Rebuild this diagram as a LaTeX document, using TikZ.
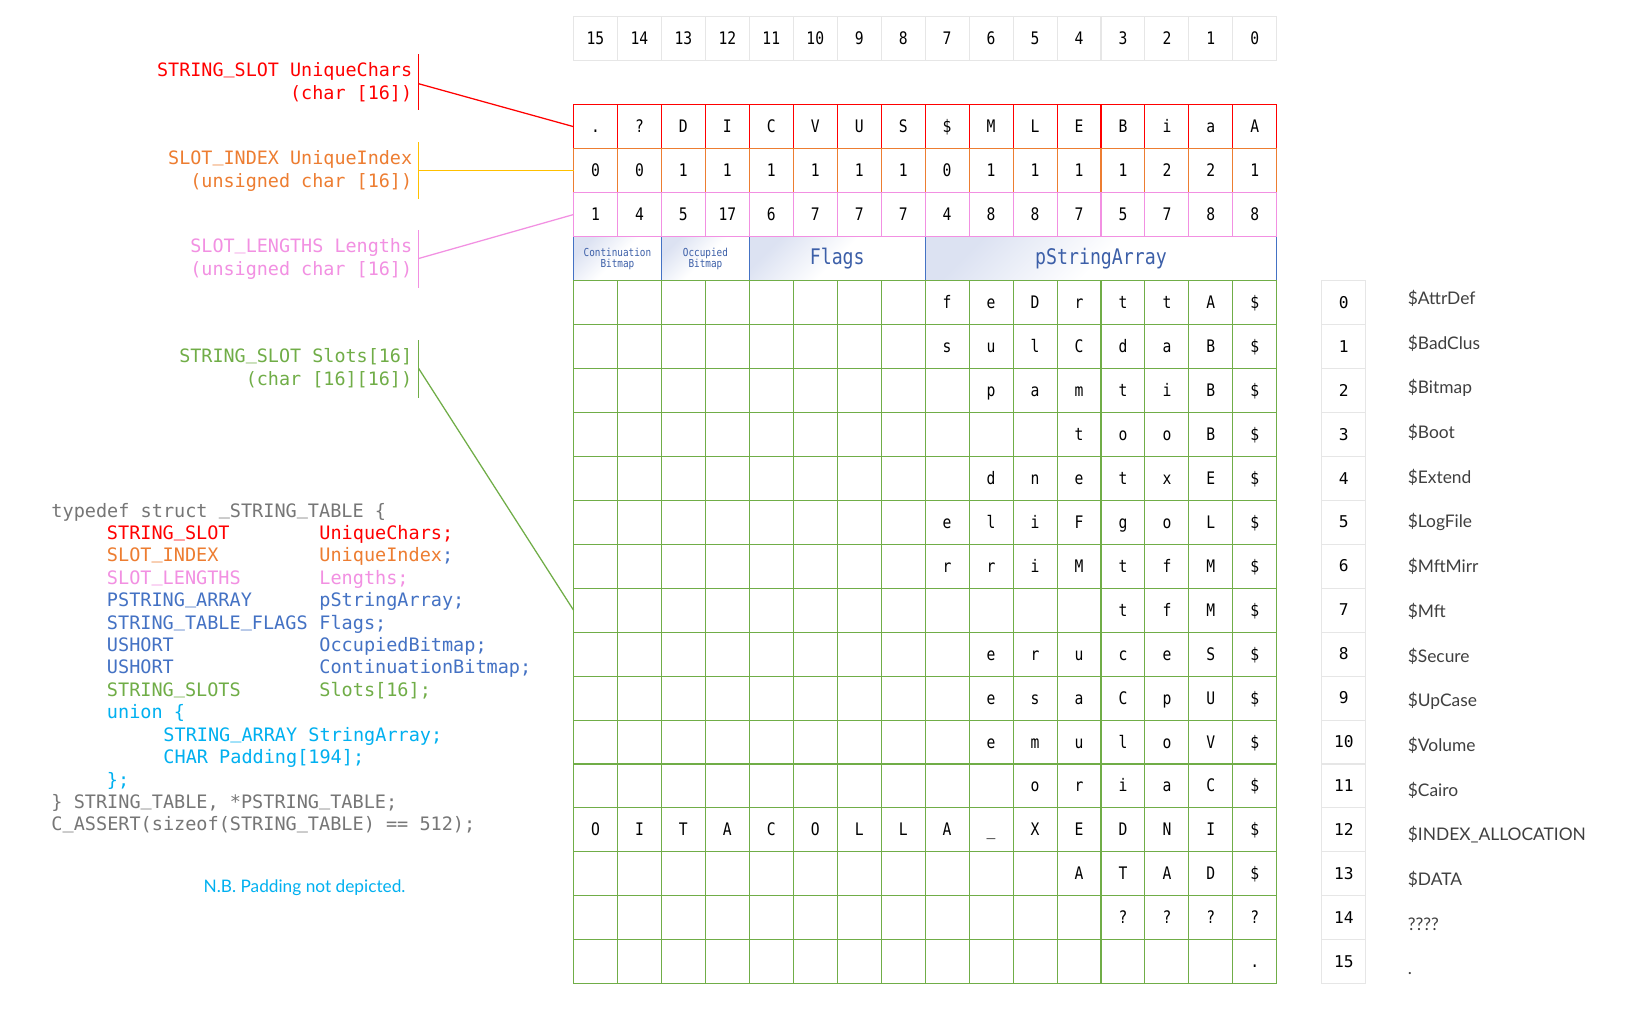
\documentclass[tikz,border=0pt]{standalone}
\usepackage{fontspec}
\setmainfont{Lato}
\newfontfamily\codefont{DejaVu Sans Mono}
\newfontfamily\cellfont[FakeStretch=0.85]{DejaVu Sans Mono}
\newcommand\uscore{\raisebox{0.16em}{\_}}
\definecolor{cred}{HTML}{FF0000}
\definecolor{corange}{HTML}{ED7D31}
\definecolor{cgold}{HTML}{FFC000}
\definecolor{cpink}{HTML}{F290E2}
\definecolor{cblue}{HTML}{4472C4}
\definecolor{cbluetxt}{HTML}{3C5FA8}
\definecolor{cgreen}{HTML}{70AD47}
\definecolor{ccyan}{HTML}{00B0F0}
\definecolor{cgray}{HTML}{767676}
\definecolor{clight}{HTML}{E6E6E6}
\definecolor{clav}{HTML}{DCE2F2}
\definecolor{clabel}{HTML}{3F3F3F}
\tikzset{
  cellbox/.style={draw, line width=1pt, minimum width=42pt, minimum height=42pt, inner sep=0pt, outer sep=0pt},
  ctext/.style={inner sep=0pt, font=\cellfont\fontsize{16.5}{18}\selectfont, text height=12pt, text depth=0.5pt, anchor=center},
  codetxt/.style={inner sep=0pt, anchor=base west, font=\codefont\fontsize{17.7}{20}\selectfont},
  lbltxt/.style={inner sep=0pt, anchor=base east, font=\codefont\fontsize{17.6}{20}\selectfont},
  numtxt/.style={inner sep=0pt, font=\codefont\fontsize{15.5}{18}\selectfont, text height=11pt, text depth=0pt, anchor=center},
  rlab/.style={inner sep=0pt, anchor=base west, font=\fontsize{16.6}{18}\selectfont, text=clabel},
  bar/.style={line width=1.2pt},
  conn/.style={line width=1.2pt},
  bluecell/.style={cellbox, draw=cblue, top color=clav, bottom color=white, middle color=white, shading angle=45, minimum width=#1},
  bluetxt/.style={inner sep=0pt, text=cbluetxt, align=center}
}
\begin{document}
\begin{tikzpicture}[x=1pt,y=-1pt]
\useasboundingbox (0,0) rectangle (1568,975);
\fill[white] (0,0) rectangle (1568,975);

% ---------- header row ----------
\foreach \n [count=\j from 0] in {15,14,13,12,11,10,9,8,7,6,5,4,3,2,1,0}{
  \node[cellbox, draw=clight] (h-\j) at ({569+42*\j},37) {};
  \node[ctext] at (h-\j) {\n};
}

% ---------- UniqueChars (red) ----------
\foreach \ch [count=\j from 0] in {.,?,D,I,C,V,U,S,\$,M,L,E,B,i,a,A}{
  \node[cellbox, draw=cred] (u-\j) at ({569+42*\j},121) {};
  \node[ctext] at (u-\j) {\ch};
}
% ---------- UniqueIndex (orange) ----------
\foreach \ch [count=\j from 0] in {0,0,1,1,1,1,1,1,0,1,1,1,1,2,2,1}{
  \node[cellbox, draw=corange] (o-\j) at ({569+42*\j},163) {};
  \node[ctext] at (o-\j) {\ch};
}
% ---------- blue row ----------
\node[bluecell=84pt] (cb) at (590,247) {};
\node[bluecell=84pt] (ob) at (674,247) {};
\node[bluecell=168pt] (fl) at (800,247) {};
\node[bluecell=336pt] (ps) at (1052,247) {};
\node[bluetxt, font=\cellfont\fontsize{10.5}{10.5}\selectfont] at (cb) {Continuation\\Bitmap};
\node[bluetxt, font=\cellfont\fontsize{10.5}{10.5}\selectfont] at (ob) {Occupied\\Bitmap};
\node[bluetxt, font=\cellfont\fontsize{20.5}{22}\selectfont] at (fl) {Flags};
\node[bluetxt, font=\cellfont\fontsize{20.5}{22}\selectfont] at (ps) {pStringArray};
% ---------- Lengths (pink) ----------
\foreach \ch [count=\j from 0] in {1,4,5,17,6,7,7,7,4,8,8,7,5,7,8,8}{
  \node[cellbox, draw=cpink] (p-\j) at ({569+42*\j},205) {};
  \node[ctext] at (p-\j) {\ch};
}
% ---------- Slots (green) ----------
\foreach \r in {0,...,15}{
  \foreach \j in {0,...,15}{
    \node[cellbox, draw=cgreen] (g-\r-\j) at ({569+42*\j},{289+42*\r}) {};
  }
}
\foreach \ch [count=\k from 0] in {\$,A,t,t,r,D,e,f} \node[ctext] at ({1199-42*\k},289) {\ch};
\foreach \ch [count=\k from 0] in {\$,B,a,d,C,l,u,s} \node[ctext] at ({1199-42*\k},331) {\ch};
\foreach \ch [count=\k from 0] in {\$,B,i,t,m,a,p} \node[ctext] at ({1199-42*\k},373) {\ch};
\foreach \ch [count=\k from 0] in {\$,B,o,o,t} \node[ctext] at ({1199-42*\k},415) {\ch};
\foreach \ch [count=\k from 0] in {\$,E,x,t,e,n,d} \node[ctext] at ({1199-42*\k},457) {\ch};
\foreach \ch [count=\k from 0] in {\$,L,o,g,F,i,l,e} \node[ctext] at ({1199-42*\k},499) {\ch};
\foreach \ch [count=\k from 0] in {\$,M,f,t,M,i,r,r} \node[ctext] at ({1199-42*\k},541) {\ch};
\foreach \ch [count=\k from 0] in {\$,M,f,t} \node[ctext] at ({1199-42*\k},583) {\ch};
\foreach \ch [count=\k from 0] in {\$,S,e,c,u,r,e} \node[ctext] at ({1199-42*\k},625) {\ch};
\foreach \ch [count=\k from 0] in {\$,U,p,C,a,s,e} \node[ctext] at ({1199-42*\k},667) {\ch};
\foreach \ch [count=\k from 0] in {\$,V,o,l,u,m,e} \node[ctext] at ({1199-42*\k},709) {\ch};
\foreach \ch [count=\k from 0] in {\$,C,a,i,r,o} \node[ctext] at ({1199-42*\k},751) {\ch};
\foreach \ch [count=\k from 0] in {\$,I,N,D,E,X,\_,A,L,L,O,C,A,T,I,O} \node[ctext] at ({1199-42*\k},793) {\ch};
\foreach \ch [count=\k from 0] in {\$,D,A,T,A} \node[ctext] at ({1199-42*\k},835) {\ch};
\foreach \ch [count=\k from 0] in {?,?,?,?} \node[ctext] at ({1199-42*\k},877) {\ch};
\node[ctext] at (g-15-15) {.};

% ---------- right index column ----------
\foreach \i in {0,...,15}{
  \node[cellbox, draw=clight] (n-\i) at (1284,{289+42*\i}) {};
  \node[numtxt] at (n-\i) {\i};
}
\foreach \s [count=\i from 0] in {\$AttrDef,\$BadClus,\$Bitmap,\$Boot,\$Extend,\$LogFile,\$MftMirr,\$Mft,\$Secure,\$UpCase,\$Volume,\$Cairo,\$INDEX\_ALLOCATION,\$DATA,????,.}
  \node[rlab] (lab-\i) at (1345,{291+42.7*\i}) {\s};

% ---------- left labels ----------
\node[lbltxt, text=cred] (l1a) at (394,73) {STRING\uscore SLOT UniqueChars};
\node[lbltxt, text=cred] (l1b) at (394,95) {(char [16])};
\node[lbltxt, text=corange] (l2a) at (394,157) {SLOT\uscore INDEX UniqueIndex};
\node[lbltxt, text=corange] (l2b) at (394,179) {(unsigned char [16])};
\node[lbltxt, text=cpink] (l3a) at (394,241) {SLOT\uscore LENGTHS Lengths};
\node[lbltxt, text=cpink] (l3b) at (394,263) {(unsigned char [16])};
\node[lbltxt, text=cgreen] (l4a) at (394,346) {STRING\uscore SLOT Slots[16]};
\node[lbltxt, text=cgreen] (l4b) at (394,368) {(char [16][16])};

\coordinate (b1t) at (400,52);  \coordinate (b1b) at (400,105); \coordinate (b1m) at (400,80);
\coordinate (b2t) at (400,136); \coordinate (b2b) at (400,190); \coordinate (b2m) at (400,163);
\coordinate (b3t) at (400,220); \coordinate (b3b) at (400,275); \coordinate (b3m) at (400,247);
\coordinate (b4t) at (400,325); \coordinate (b4b) at (400,380); \coordinate (b4m) at (400,352);
\draw[bar, cred] (b1t) -- (b1b);
\draw[conn, cred] (b1m) -- (u-0.west);
\draw[bar, cgold] (b2t) -- (b2b);
\draw[conn, cgold] (b2m) -- (o-0.west);
\draw[bar, cpink] (b3t) -- (b3b);
\draw[conn, cpink] (b3m) -- (p-0.west);
\draw[bar, cgreen] (b4t) -- (b4b);
\draw[conn, cgreen] (b4m) -- (g-7-0.west);

% ---------- code ----------
\node[codetxt, text=cgray] (c0) at (49,494) {typedef struct \uscore STRING\uscore TABLE \{};
\node[codetxt, text=cred] (c1a) at (102,515.4) {STRING\uscore SLOT};
\node[codetxt, text=cred] (c1b) at (305,515.4) {UniqueChars;};
\node[codetxt, text=corange] (c2a) at (102,536.9) {SLOT\uscore INDEX};
\node[codetxt, text=corange] (c2b) at (305,536.9) {UniqueIndex{\color{cblue};}};
\node[codetxt, text=cpink] (c3a) at (102,558.3) {SLOT\uscore LENGTHS};
\node[codetxt, text=cpink] (c3b) at (305,558.3) {Lengths;};
\node[codetxt, text=cblue] (c4a) at (102,579.7) {PSTRING\uscore ARRAY};
\node[codetxt, text=cblue] (c4b) at (305,579.7) {pStringArray;};
\node[codetxt, text=cblue] (c5a) at (102,601.2) {STRING\uscore TABLE\uscore FLAGS};
\node[codetxt, text=cblue] (c5b) at (305,601.2) {Flags;};
\node[codetxt, text=cblue] (c6a) at (102,622.6) {USHORT};
\node[codetxt, text=cblue] (c6b) at (305,622.6) {OccupiedBitmap;};
\node[codetxt, text=cblue] (c7a) at (102,644.0) {USHORT};
\node[codetxt, text=cblue] (c7b) at (305,644.0) {ContinuationBitmap;};
\node[codetxt, text=cgreen] (c8a) at (102,665.4) {STRING\uscore SLOTS};
\node[codetxt, text=cgreen] (c8b) at (305,665.4) {Slots[16];};
\node[codetxt, text=ccyan] (c9) at (102,686.9) {union \{};
\node[codetxt, text=ccyan] (c10) at (156,708.3) {STRING\uscore ARRAY StringArray;};
\node[codetxt, text=ccyan] (c11) at (156,729.7) {CHAR Padding[194];};
\node[codetxt, text=ccyan] (c12) at (102,751.2) {\};};
\node[codetxt, text=cgray] (c13) at (49,772.6) {\} STRING\uscore TABLE, *PSTRING\uscore TABLE;};
\node[codetxt, text=cgray] (c14) at (49,794.0) {C\uscore ASSERT(sizeof(STRING\uscore TABLE) == 512);};

\node[inner sep=0pt, anchor=base, text=ccyan, font=\fontsize{16.5}{18}\selectfont] (nb) at (291,853) {N.B. Padding not depicted.};
\end{tikzpicture}
\end{document}
